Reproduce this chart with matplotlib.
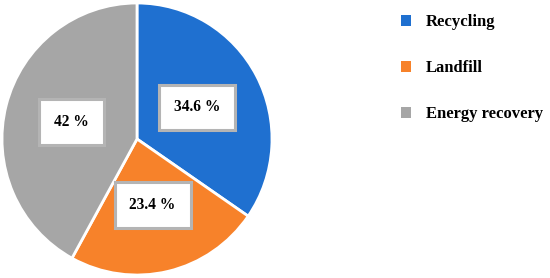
import matplotlib
matplotlib.use("Agg")
import matplotlib.pyplot as plt

categories = ["Recycling", "Landfill", "Energy recovery"]
values = [34.6, 23.4, 42.0]
colors = ["#1f70d0", "#f7822a", "#a6a6a6"]

serif = ["Liberation Serif", "DejaVu Serif"]

fig = plt.figure(figsize=(5.5, 2.78), dpi=100)
ax = fig.add_axes([2/550, 3/278, 270/550, 272/278])

def fmt(p):
    return f"{round(p, 1):g} %"

wedges, texts, autotexts = ax.pie(
    values, colors=colors, startangle=90, counterclock=False,
    autopct=fmt, pctdistance=0.5, radius=1.0,
    wedgeprops=dict(edgecolor="white", linewidth=2),
)
for t in autotexts:
    t.set_fontfamily(serif)
    t.set_fontweight("bold")
    t.set_fontsize(11.2)
    t.set_color("black")
    t.set_bbox(dict(boxstyle="square,pad=0.95", facecolor="white",
                    edgecolor="#b4b4b4", linewidth=2.2))
ax.set_aspect("auto")
ax.set_xlim(-1.0, 1.0)
ax.set_ylim(-1.0, 1.0)
ax.axis("off")

leg = fig.legend(wedges, categories, loc="center left",
                 bbox_to_anchor=(401/550, 1 - 68/278),
                 frameon=False, borderaxespad=0, borderpad=0,
                 handlelength=0.62, handleheight=0.62, handletextpad=0.85,
                 labelspacing=1.8,
                 prop=dict(family=serif, weight="bold", size=12))
for h in leg.legend_handles:
    h.set_edgecolor("none")

fig.savefig("out.png", dpi=100)
